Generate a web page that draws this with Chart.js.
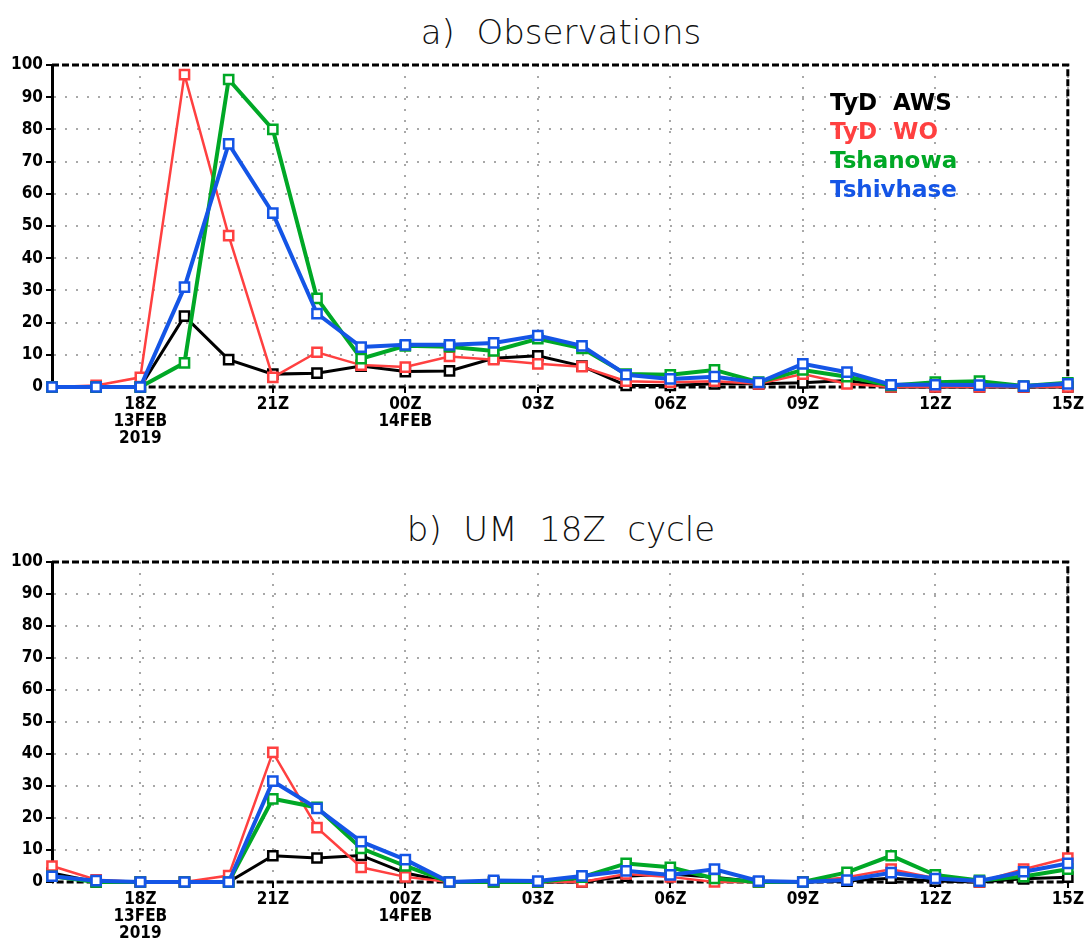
<!DOCTYPE html>
<html>
<head>
<meta charset="utf-8">
<script src="https://cdn.jsdelivr.net/npm/chart.js@4"></script>
<style>
  body { margin: 0; background: #fff; }
  #wrap { position: relative; width: 1087px; height: 943px; overflow: hidden; }
  .panel { position: absolute; left: 0; width: 1087px; }
  .title {
    position: absolute; left: 0; width: 1122px; text-align: center;
    font-family: "DejaVu Sans", sans-serif; font-weight: 200; font-size: 34px;
    color: #111; white-space: pre; line-height: 1;
  }
  #legend {
    position: absolute; left: 830px; top: 88px;
    font-family: "DejaVu Sans", sans-serif; font-weight: bold; font-size: 23px;
    line-height: 29px; white-space: pre;
  }
</style>
</head>
<body>
<div id="wrap">
  <div class="title" style="top:15px">a)  Observations</div>
  <div class="panel" style="top:0;height:470px"><canvas id="obsChart"></canvas></div>
  <div id="legend"></div>
  <div class="title" style="top:512px">b)  UM  18Z  cycle</div>
  <div class="panel" style="top:470px;height:473px"><canvas id="umChart"></canvas></div>
</div>
<script>
// hourly steps, 16Z 13 Feb 2019 to 15Z 14 Feb 2019
const hours = ["16Z", "17Z", "18Z", "19Z", "20Z", "21Z", "22Z", "23Z", "00Z", "01Z", "02Z", "03Z",
               "04Z", "05Z", "06Z", "07Z", "08Z", "09Z", "10Z", "11Z", "12Z", "13Z", "14Z", "15Z"];
const tickHours = ["18Z", "21Z", "00Z", "03Z", "06Z", "09Z", "12Z", "15Z"];
const tickDates = { "18Z": ["13FEB", "2019"], "00Z": ["14FEB"] };
const yTicks = [0, 10, 20, 30, 40, 50, 60, 70, 80, 90, 100];

const seriesNames = ["TyD  AWS", "TyD  WO", "Tshanowa", "Tshivhase"];

// a) observations
const obsAws       = [0, 0, 0, 22, 8.5, 4, 4.3, 6.5, 4.8, 5, 8.9, 9.7, 6.5, 0.5, 0.5, 1, 1, 1.3, 2, 0, 0, 0, 0, 0];
const obsWo        = [0, 0.5, 3, 97, 47, 3, 10.8, 6.8, 6.2, 9.5, 8.5, 7.2, 6.3, 1.8, 1.5, 1.8, 1, 4, 1, 0, 0, 0, 0, 0];
const obsTshanowa  = [0, 0, 0, 7.5, 95.5, 80, 27.5, 8.8, 12.8, 12.5, 11.2, 15, 12, 4, 3.8, 5.3, 1.5, 5.3, 3.2, 0.5, 1.5, 1.8, 0.3, 1.3];
const obsTshivhase = [0, 0, 0, 31, 75.5, 54, 22.8, 12.4, 13.1, 13.1, 13.7, 16, 12.8, 3.8, 2.5, 3.2, 1.4, 7.2, 4.6, 0.7, 0.7, 0.6, 0.3, 1];

// b) UM 18Z cycle
const umAws       = [2.8, 0, 0, 0, 0, 8.2, 7.5, 8.3, 2.8, 0, 0, 0, 0, 1.8, 2.5, 1.5, 0, 0, 0.3, 1.2, 0.3, 0, 1, 1.5];
const umWo        = [5, 0.7, 0, 0, 2, 40.5, 17, 4.6, 1.6, 0, 0, 0, 0, 2.5, 1.6, 0, 0, 0, 1.5, 4, 1.2, 0, 4, 7.5];
const umTshanowa  = [1.8, 0, 0, 0, 0, 26, 23.3, 10.5, 5, 0, 0, 0, 1.5, 5.8, 4.6, 1.1, 0, 0, 3, 8.2, 2.2, 0.5, 1.7, 4];
const umTshivhase = [1.8, 0.4, 0, 0, 0, 31.5, 23, 12.6, 7, 0, 0.5, 0.3, 1.9, 3.5, 2.2, 4, 0.3, 0, 0.6, 2.9, 1.1, 0.3, 3.2, 5.8];

const colors = ["#000000", "#ff4040", "#00a826", "#1455e6"];
const lineWidths = [3, 2.5, 4, 4];
const tickFont = { family: "'DejaVu Sans Condensed', 'Liberation Sans Narrow', sans-serif", size: 17, weight: "bold", lineHeight: 1.0 };

// dashed box round the plot area, drawn under the lines
const framePlugin = {
    id: "frame",
    beforeDatasetsDraw(chart) {
        const ctx = chart.ctx;
        const a = chart.chartArea;
        ctx.save();
        ctx.strokeStyle = "#000";
        ctx.lineWidth = 3;
        ctx.setLineDash([7, 3]);
        ctx.beginPath();
        ctx.moveTo(a.left, a.top);
        ctx.lineTo(a.right, a.top);
        ctx.lineTo(a.right, a.bottom);
        ctx.lineTo(a.left, a.bottom);
        ctx.stroke();
        ctx.restore();
    }
};

function makeChart(id, values, padTop, xHeight) {
    let ctx = document.getElementById(id).getContext("2d");
    return new Chart(ctx, {
        type: "line",
        data: {
            labels: hours,
            datasets: values.map((v, i) => ({
                label: seriesNames[i],
                data: v,
                borderColor: colors[i],
                borderWidth: lineWidths[i],
                pointStyle: "rect",
                pointRadius: 6.5,
                pointBorderWidth: 2.5,
                pointBorderColor: colors[i],
                pointBackgroundColor: "#fff",
                tension: 0,
                clip: false,
                order: 4 - i
            }))
        },
        options: {
            responsive: true,
            maintainAspectRatio: false,
            animation: false,
            layout: { padding: { top: padTop, right: 19, left: 0, bottom: 0 } },
            plugins: { legend: { display: false }, tooltip: { enabled: false } },
            scales: {
                x: {
                    type: "category",
                    grid: {
                        color: c => tickHours.includes(hours[c.index]) ? "#a8a8a8" : "rgba(0,0,0,0)",
                        tickColor: c => tickHours.includes(hours[c.index]) ? "#000" : "rgba(0,0,0,0)",
                        lineWidth: 2,
                        tickLength: 6,
                        tickWidth: 2
                    },
                    border: { display: false, dash: [2, 9] },
                    ticks: {
                        autoSkip: false,
                        maxRotation: 0,
                        padding: 3,
                        color: "#000",
                        font: tickFont,
                        callback: (v, i) => {
                            const h = hours[i];
                            if (!tickHours.includes(h)) return "";
                            return tickDates[h] ? [h].concat(tickDates[h]) : h;
                        }
                    },
                    afterFit: s => { s.height = xHeight; }
                },
                y: {
                    min: 0,
                    max: 100,
                    afterBuildTicks: s => { s.ticks = yTicks.map(v => ({ value: v })); },
                    grid: {
                        color: c => (c.tick && (c.tick.value === 0 || c.tick.value === 100)) ? "rgba(0,0,0,0)" : "#a8a8a8",
                        tickColor: "#000",
                        lineWidth: 2,
                        tickLength: 6,
                        tickWidth: 2
                    },
                    border: { display: true, color: "#000", width: 3, dash: [2, 9] },
                    ticks: { padding: 3, color: "#000", font: tickFont },
                    afterFit: s => { s.width = 52; }
                }
            }
        },
        plugins: [framePlugin]
    });
}

makeChart("obsChart", [obsAws, obsWo, obsTshanowa, obsTshivhase], 65, 83);
makeChart("umChart", [umAws, umWo, umTshanowa, umTshivhase], 92, 61);

// legend text in the top panel
const legend = document.getElementById("legend");
seriesNames.forEach((name, i) => {
    const row = document.createElement("div");
    row.textContent = name;
    row.style.color = colors[i];
    legend.appendChild(row);
});
</script>
</body>
</html>
